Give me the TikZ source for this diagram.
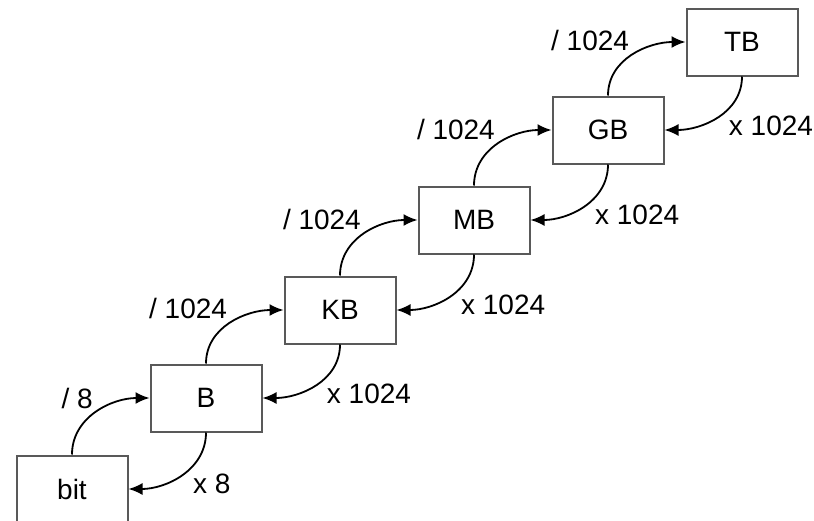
\documentclass[tikz,border=0pt]{standalone}
\usepackage{fontspec}
\setmainfont{Liberation Sans}
\usetikzlibrary{arrows.meta}

\begin{document}
\begin{tikzpicture}[x=1pt, y=-1pt, ->, >={Latex[length=14pt,width=12pt]},
    line width=1.8pt,
    font=\fontsize{28}{32}\selectfont,
    unit/.style = {draw=black!65, -, line width=2pt, minimum width=111pt, minimum height=67pt},
    up/.style = {inner sep=3pt, midway, above left},
    down/.style = {inner sep=3pt, midway, below right, xshift=8pt, yshift=5pt}]
    \useasboundingbox (0,0) rectangle (814,520);
    % Nodes

    \node[unit] (bit) at (72, 489) {bit};
    \node[unit] (B) at (206, 398) {B};
    \node[unit] (KB) at (340, 310) {KB};
    \node[unit] (MB) at (474, 220) {MB};
    \node[unit] (GB) at (608, 130) {GB};
    \node[unit] (TB) at (742, 42) {TB};

    % Edges

    \draw (bit.north) to[out=90, in=180] node[up] {/ 8} (B.west);
    \draw (B.south) to[out=-90, in=0] node[down] {x 8} (bit.east);

    \draw (B.north) to[out=90, in=180] node[up] {/ 1024} (KB.west);
    \draw (KB.south) to[out=-90, in=0] node[down] {x 1024} (B.east);

    \draw (KB.north) to[out=90, in=180] node[up] {/ 1024} (MB.west);
    \draw (MB.south) to[out=-90, in=0] node[down] {x 1024} (KB.east);

    \draw (MB.north) to[out=90, in=180] node[up] {/ 1024} (GB.west);
    \draw (GB.south) to[out=-90, in=0] node[down] {x 1024} (MB.east);

    \draw (GB.north) to[out=90, in=180] node[up] {/ 1024} (TB.west);
    \draw (TB.south) to[out=-90, in=0] node[down] {x 1024} (GB.east);

\end{tikzpicture}
\end{document}
